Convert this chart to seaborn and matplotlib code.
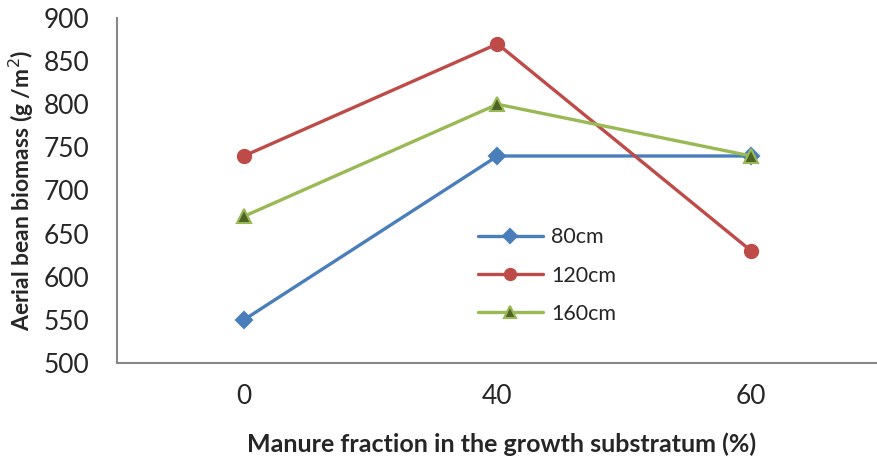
import matplotlib
matplotlib.use("Agg")
import matplotlib.pyplot as plt
import seaborn as sns
import pandas as pd
from matplotlib.lines import Line2D

categories = ["0", "40", "60"]
series_names = ["80cm", "120cm", "160cm"]
v80 = [550, 740, 740]
v120 = [740, 870, 630]
v160 = [670, 800, 740]

colors = {"80cm": "#4a7ebb", "120cm": "#be4b48", "160cm": "#98b954"}
markers = {"80cm": "D", "120cm": "o", "160cm": "^"}
msizes = {"80cm": 8, "120cm": 9.5, "160cm": 10}

rows = []
for name, vals in zip(series_names, [v80, v120, v160]):
    for i, v in enumerate(vals):
        rows.append({"pos": i, "value": v, "series": name})
df = pd.DataFrame(rows)

sns.set_theme(style="white")
plt.rcParams['font.family'] = ['Lato', 'DejaVu Sans']

fig = plt.figure(figsize=(8.78, 4.58), dpi=100)
ax = fig.add_axes([117/878, 1-363/458, 1-117/878, (363-18)/458])

for name in series_names:
    sub = df[df.series == name]
    mfc = "#4f6228" if name == "160cm" else colors[name]
    sns.lineplot(data=sub, x="pos", y="value", ax=ax, color=colors[name],
                 linewidth=2.4, marker=markers[name], markersize=msizes[name],
                 markerfacecolor=mfc, markeredgecolor=colors[name],
                 markeredgewidth=1.5, label=name, legend=False)

ax.set_xlim(-0.5, (878-246)/256)
ax.set_ylim(500, 900)
ax.set_yticks(range(500, 901, 50))
ax.set_xticks([-0.5, 0.5, 1.5, 2.5], minor=False)
ax.set_xticklabels([])
ax.set_xticks([0, 1, 2], labels=categories, minor=True)
ax.tick_params(axis="x", which="major", length=6, width=1.2, color="#888888", direction="in")
ax.tick_params(axis="x", which="minor", length=5, width=1.2, color="#888888", direction="in", pad=15, labelsize=19)
ax.tick_params(axis="y", length=6, width=1.2, color="#888888", direction="out", labelsize=19, pad=14)
for s in ["top", "right"]:
    ax.spines[s].set_visible(False)
for s in ["left", "bottom"]:
    ax.spines[s].set_color("#888888")
    ax.spines[s].set_linewidth(1.5)

ax.set_xlabel("Manure fraction in the growth substratum (%)", fontsize=18, fontweight="bold")
ax.set_ylabel("Aerial bean biomass (g /m$^2$)", fontsize=16.5, fontweight="bold")
ax.xaxis.set_label_coords((502-117)/761, -0.2)
ax.yaxis.set_label_coords(-0.106, 0.5)

handles = []
for name in series_names:
    mfc = "#4f6228" if name == "160cm" else colors[name]
    handles.append(Line2D([0], [0], color=colors[name], linewidth=2.4, marker=markers[name],
                          markersize=msizes[name] * 0.85, markerfacecolor=mfc,
                          markeredgecolor=colors[name], markeredgewidth=1.5))
ax.legend(handles, series_names, loc="upper left", bbox_to_anchor=(0.463, 0.418),
          frameon=False, fontsize=15.5, handlelength=3.0, handletextpad=0.4,
          labelspacing=0.85, borderaxespad=0)

fig.savefig("out.png", dpi=100)
